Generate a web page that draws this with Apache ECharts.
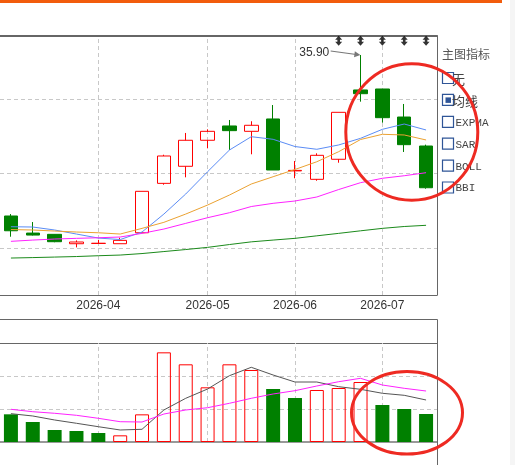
<!DOCTYPE html>
<html>
<head>
<meta charset="utf-8">
<script src="https://cdn.jsdelivr.net/npm/echarts@6/dist/echarts.min.js"></script>
<style>
html,body{margin:0;padding:0;background:#fff;}
#chart{width:515px;height:465px;}
</style>
</head>
<body>
<div id="chart"></div>
<script>
// ---- data (weekly bars) ----
const weeks = ['2026-03-06','2026-03-13','2026-03-20','2026-03-27','2026-04-03','2026-04-10','2026-04-17','2026-04-24','2026-04-30','2026-05-08','2026-05-15','2026-05-22','2026-05-29','2026-06-05','2026-06-12','2026-06-19','2026-06-26','2026-07-03','2026-07-10','2026-07-17'];
const openP  = [14.30, 12.01, 11.84, 10.58, 10.62, 10.58, 12.05, 18.68, 20.97, 24.46, 26.38, 25.66, 27.32, 20.35, 19.22, 21.91, 31.21, 31.34, 27.58, 23.69];
const closeP = [12.32, 11.74, 10.85, 10.81, 10.64, 11.03, 17.61, 22.35, 24.46, 25.66, 25.75, 26.47, 20.47, 20.42, 22.44, 28.21, 30.71, 27.49, 23.87, 18.09];
const lowP   = [11.52, 11.68, 10.78, 10.09, 10.55, 10.58, 12.05, 18.50, 19.49, 23.38, 23.15, 22.58, 20.47, 19.36, 19.03, 21.45, 29.64, 26.82, 22.89, 17.96];
const highP  = [14.56, 13.49, 11.88, 11.03, 11.10, 11.38, 17.61, 22.52, 25.44, 25.93, 27.18, 27.01, 29.19, 21.68, 22.71, 28.21, 35.90, 31.34, 29.33, 23.87];
const ma5  = [12.86, 12.82, 12.42, 11.88, 11.34, 11.14, 12.15, 14.56, 17.25, 20.24, 23.15, 24.94, 24.59, 23.62, 23.25, 23.83, 24.72, 25.93, 26.64, 25.84];
const ma10 = [12.48, 12.42, 12.28, 12.15, 12.05, 11.88, 12.64, 13.45, 14.56, 15.77, 17.11, 18.59, 19.57, 20.54, 21.58, 22.93, 24.56, 25.26, 25.17, 24.50];
const ma20 = [10.90, 11.07, 11.21, 11.30, 11.38, 11.48, 11.97, 12.55, 13.31, 14.07, 14.74, 15.57, 16.00, 16.31, 16.85, 17.85, 18.77, 19.36, 19.70, 20.11];
const ma60 = [8.66, 8.72, 8.79, 8.86, 8.97, 9.06, 9.26, 9.53, 9.80, 10.09, 10.47, 10.83, 11.07, 11.30, 11.64, 11.97, 12.31, 12.64, 12.89, 13.05];
const volume = [8.39, 6.06, 3.64, 3.33, 2.73, 2.02, 8.38, 27.17, 23.54, 16.57, 23.54, 21.82, 16.06, 13.33, 15.76, 16.36, 18.18, 11.21, 10.00, 8.48];
const volMa5  = [8.58, 7.88, 6.67, 5.67, 4.64, 3.64, 3.85, 9.70, 13.24, 16.06, 20.09, 22.64, 20.30, 18.18, 18.18, 16.76, 15.97, 14.76, 14.15, 12.73];
const volMa10 = [9.91, 9.18, 8.70, 8.09, 7.18, 6.15, 6.06, 8.48, 9.70, 10.39, 11.73, 13.24, 14.55, 15.55, 16.97, 18.27, 19.30, 17.27, 16.27, 15.45];
const tickLabels = ['2026-04', '2026-05', '2026-06', '2026-07'];
const priceLevels = [10, 20, 30];
const markerWeeks = ['2026-06-19', '2026-06-26', '2026-07-03', '2026-07-10', '2026-07-17'];
const markerLevel = 37.8;
const indicatorOptions = ['无', '均线', 'EXPMA', 'SAR', 'BOLL', 'BBI'];
const checkedIndicator = '均线';

// ---- build ----
const UP = '#ff0000', DOWN = '#008000';
const tickIdx = tickLabels.map(t => weeks.findIndex(w => w.startsWith(t)));
const kData = weeks.map((_, i) => [openP[i], closeP[i], lowP[i], highP[i]]);
const volData = volume.map((v, i) => {
  const up = i === 0 ? closeP[0] >= openP[0] : closeP[i] >= closeP[i - 1];
  return {
    value: v,
    itemStyle: up ? { color: 'rgba(0,0,0,0)', borderColor: UP, borderWidth: 1 } : { color: DOWN }
  };
});
const dash = { type: [4, 3], color: '#c8c8c8', width: 1 };

const chart = echarts.init(document.getElementById('chart'), null, { renderer: 'canvas' });

const graphic = [];
graphic.push({ type: 'rect', shape: { x: 0, y: 0, width: 502, height: 3 }, style: { fill: '#f25c0c' }, z: 50 });
graphic.push({ type: 'rect', shape: { x: 510, y: 0, width: 5, height: 465 }, style: { fill: '#f5f5f5' }, z: 50 });
graphic.push({ type: 'polyline', shape: { points: [[0, 319.5], [437.5, 319.5], [437.5, 465]] }, style: { stroke: '#666', lineWidth: 1, fill: null }, z: 50 });
graphic.push({ type: 'text', x: 442, y: 54, style: { text: '主图指标', font: '12px "Noto Sans CJK SC"', fill: '#555', verticalAlign: 'middle', textVerticalAlign: 'middle' }, z: 50 });
indicatorOptions.forEach((name, i) => {
  const cy = 78 + i * 21.9;
  graphic.push({ type: 'rect', shape: { x: 442.5, y: cy - 5.5, width: 11, height: 11 }, style: { fill: '#fff', stroke: '#2f5597', lineWidth: 1.2 }, z: 50 });
  if (name === checkedIndicator) {
    graphic.push({ type: 'rect', shape: { x: 445.5, y: cy - 2.5, width: 5.5, height: 5.5 }, style: { fill: '#2f5597' }, z: 51 });
  }
  const cjk = /[\u4e00-\u9fff]/.test(name);
  graphic.push({ type: 'text', x: cjk ? 452 : 455.5, y: cy + 1, style: { text: name, font: cjk ? '13px "Noto Sans CJK SC"' : '11px "Liberation Mono"', fill: '#444', verticalAlign: 'middle', textVerticalAlign: 'middle' }, z: 50 });
});
graphic.push({ type: 'ellipse', shape: { cx: 411.8, cy: 132, rx: 66, ry: 68.2 }, style: { fill: null, stroke: '#ee2a22', lineWidth: 3 }, z: 60 });
graphic.push({ type: 'ellipse', shape: { cx: 407, cy: 412.8, rx: 55.5, ry: 41.3 }, style: { fill: null, stroke: '#ee2a22', lineWidth: 3 }, z: 60 });

const lineS = (name, data, color, xi, yi, extra) => Object.assign({
  name, type: 'line', data, xAxisIndex: xi, yAxisIndex: yi, symbol: 'none', silent: true, z: 4,
  lineStyle: { color, width: 1 }, itemStyle: { color }
}, extra || {});

const option = {
  animation: false,
  backgroundColor: '#fff',
  grid: [
    { left: 0, top: 36, width: 437, height: 259 },
    { left: 0, top: 343, width: 437, height: 99 }
  ],
  xAxis: [
    { type: 'category', gridIndex: 0, data: weeks, boundaryGap: true,
      axisLine: { show: true, lineStyle: { color: '#666', width: 1 } }, axisTick: { show: false },
      axisLabel: { interval: (i) => tickIdx.includes(i), formatter: v => v.slice(0, 7), color: '#333', fontSize: 12, fontFamily: 'Liberation Sans', margin: 5 },
      splitLine: { show: false } },
    { type: 'category', gridIndex: 0, data: weeks, position: 'top',
      axisLine: { show: true, lineStyle: { color: '#666', width: 2 } }, axisTick: { show: false }, axisLabel: { show: false }, splitLine: { show: false } },
    { type: 'category', gridIndex: 1, data: weeks, boundaryGap: true,
      axisLine: { show: true, lineStyle: { color: '#999', width: 2 } }, axisTick: { show: false }, axisLabel: { show: false }, splitLine: { show: false } },
    { type: 'category', gridIndex: 1, data: weeks, position: 'top',
      axisLine: { show: true, lineStyle: { color: '#666', width: 1 } }, axisTick: { show: false }, axisLabel: { show: false }, splitLine: { show: false } }
  ],
  yAxis: [
    { type: 'value', gridIndex: 0, position: 'right', min: 3.7, max: 38.45, scale: true,
      axisLine: { show: true, lineStyle: { color: '#666' } }, axisTick: { show: false }, axisLabel: { show: false }, splitLine: { show: false } },
    { type: 'value', gridIndex: 1, position: 'right', min: 0, max: 30, interval: 10,
      axisLine: { show: true, lineStyle: { color: '#666' } }, axisTick: { show: false }, axisLabel: { show: false }, splitLine: { show: true, lineStyle: dash } }
  ],
  graphic,
  series: [
    { name: 'K', type: 'candlestick', data: kData, xAxisIndex: 0, yAxisIndex: 0, barWidth: 14, z: 3, silent: true,
      itemStyle: { color: 'rgba(0,0,0,0)', color0: DOWN, borderColor: UP, borderColor0: DOWN, borderWidth: 1 },
      markPoint: {
        z: 5, silent: true,
        data: [{ type: 'max', valueDim: 'highest' }],
        symbol: 'path://M0,2.5L24,2.5L24,0L30,3L24,6L24,3.5L0,3.5Z',
        symbolSize: [30, 6], symbolOffset: [-15, -2], symbolRotate: -8,
        itemStyle: { color: '#777' },
        label: { show: true, position: 'left', distance: 1, formatter: p => Number(p.value).toFixed(2), color: '#333', fontSize: 12, fontFamily: 'Liberation Sans' }
      } },
    lineS('MA5', ma5, '#5b8cf5', 0, 0),
    lineS('MA10', ma10, '#eba232', 0, 0),
    lineS('MA20', ma20, '#ff22ff', 0, 0),
    lineS('MA60', ma60, '#1b8a1b', 0, 0, {
      markLine: { z: 1, silent: true, symbol: 'none', label: { show: false }, lineStyle: dash,
        data: [...tickIdx.map(i => ({ xAxis: weeks[i] })), ...priceLevels.map(v => ({ yAxis: v }))] }
    }),
    { name: 'mark', type: 'scatter', xAxisIndex: 0, yAxisIndex: 0, silent: true, z: 5,
      data: markerWeeks.map(w => [w, markerLevel]),
      symbol: 'path://M3.5,0L7,4L4.8,4L4.8,6L7,6L3.5,10L0,6L2.2,6L2.2,4L0,4Z', symbolSize: [7, 10], itemStyle: { color: '#000' } },
    { name: 'VOL', type: 'bar', data: volData, xAxisIndex: 2, yAxisIndex: 1, barWidth: 14, z: 3, silent: true },
    lineS('VMA5', volMa5, '#555555', 2, 1, {
      markLine: { z: 1, silent: true, symbol: 'none', label: { show: false }, lineStyle: dash,
        data: tickIdx.map(i => ({ xAxis: weeks[i] })) }
    }),
    lineS('VMA10', volMa10, '#ff22ff', 2, 1)
  ]
};
chart.setOption(option);
</script>
</body>
</html>
